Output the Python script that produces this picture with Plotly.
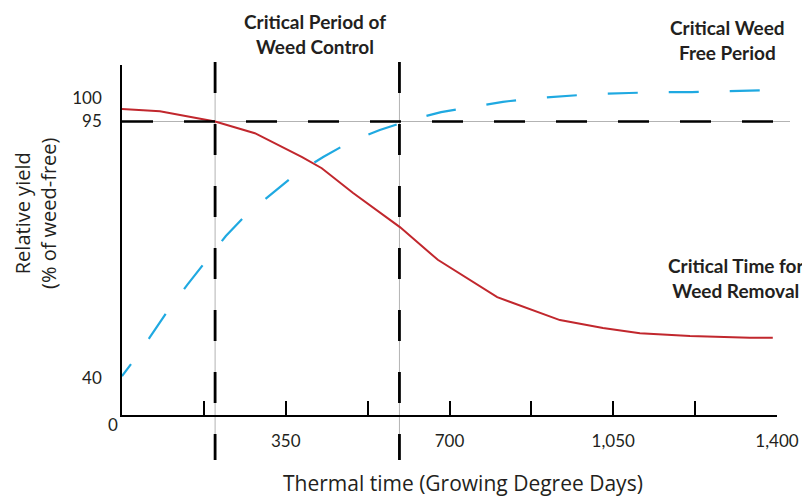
import plotly.graph_objects as go

# ---------------- data ----------------
# Critical time for weed removal (red, solid)
ctwr_time = [0, 81, 199, 284, 385, 427, 494, 594, 675, 802, 936, 1028, 1107, 1214, 1342, 1391]
ctwr_yield = [97.7, 97.2, 95.0, 92.5, 87.4, 85.0, 79.7, 72.4, 65.4, 57.4, 52.5, 50.8, 49.7, 49.1, 48.7, 48.7]

# Critical weed-free period (blue, dashed)
cwfp_time = [0, 21, 60, 96, 139, 180, 222, 267, 321, 372, 430, 487, 551, 594, 616, 682, 748,
             814, 881, 949, 1015, 1084, 1150, 1218, 1285, 1385]
cwfp_yield = [40.5, 43.3, 48.9, 54.2, 60.0, 65.1, 70.5, 75.2, 79.7, 83.8, 87.4, 90.6, 93.2, 94.6,
              95.3, 97.0, 98.1, 99.2, 100.0, 100.5, 100.9, 101.1, 101.3, 101.3, 101.5, 101.7]

threshold_yield = 95
cpwc_bounds = [199, 593]          # start / end of critical period of weed control

x_tickvals = [0, 175, 350, 525, 700, 875, 1050, 1225, 1400]
x_ticktext = ["", "", "350", "", "700", "", "1,050", "", "1,400"]
y_tickvals = [40, 95, 100]
y_ticktext = ["40", "95", "100"]

# ---------------- styling ----------------
FONT = "Lato"
TFONT = "Open Sans"
TXT = "#231F20"
RED = "#C1272D"
BLUE = "#1FA9E1"
OFF = 8                      # page body margin
W, H = 810 - OFF, 499 - OFF
ML, MR, MT, MB = 122 - OFF, 33, 65 - OFF, 84
PW, PH = W - ML - MR, H - MT - MB


def px_x(p):
    return (p - OFF - ML) / PW


def px_y(p):
    return (H - MB - (p - OFF)) / PH


fig = go.Figure()

fig.add_trace(go.Scatter(
    x=ctwr_time, y=ctwr_yield, mode="lines",
    line=dict(color=RED, width=2), hoverinfo="skip", showlegend=False))

blue_dash = "15px,31px" + ",30px,31px" * 30
fig.add_trace(go.Scatter(
    x=cwfp_time, y=cwfp_yield, mode="lines",
    line=dict(color=BLUE, width=2.2, dash=blue_dash), hoverinfo="skip", showlegend=False))

# threshold (95 %) reference line: thin grey + black dashes
fig.add_shape(type="line", xref="paper", yref="y", x0=0, x1=px_x(790),
              y0=threshold_yield, y1=threshold_yield, line=dict(color="#B3B3B3", width=1), layer="below")
fig.add_shape(type="line", xref="x", yref="y", x0=0, x1=1400,
              y0=threshold_yield, y1=threshold_yield, line=dict(color="black", width=2.5, dash="31px,31px"))

for xv in cpwc_bounds:
    fig.add_shape(type="line", xref="x", yref="paper", x0=xv, x1=xv,
                  y0=px_y(62), y1=px_y(460), line=dict(color="#B3B3B3", width=1), layer="below")
    fig.add_shape(type="line", xref="x", yref="paper", x0=xv, x1=xv,
                  y0=px_y(62), y1=px_y(460), line=dict(color="black", width=2.8, dash="31px,31px"))

ann = [
    dict(text="<b>Critical Period of<br>Weed Control</b>", x=px_x(315), y=px_y(34.5)),
    dict(text="<b>Critical Weed<br>Free Period</b>", x=px_x(727), y=px_y(40)),
    dict(text="<b>Critical Time for<br>Weed Removal</b>", x=px_x(736), y=px_y(278)),
]
for a in ann:
    fig.add_annotation(xref="paper", yref="paper", xanchor="center", yanchor="middle",
                       showarrow=False, font=dict(family=FONT, size=19, color=TXT), **a)

fig.add_annotation(text="Thermal time (Growing Degree Days)", xref="paper", yref="paper",
                   x=px_x(463), y=px_y(483), xanchor="center", yanchor="middle", showarrow=False,
                   font=dict(family=TFONT, size=21, color=TXT))
fig.add_annotation(text="Relative yield<br>(% of weed-free)", xref="paper", yref="paper",
                   x=px_x(35), y=px_y(213), xanchor="center", yanchor="middle", showarrow=False,
                   textangle=-90, font=dict(family=TFONT, size=20, color=TXT))
fig.add_annotation(text="0", xref="x", yref="paper", x=0, y=0, xanchor="center", yanchor="middle",
                   xshift=-9, yshift=-9, showarrow=False, font=dict(family=FONT, size=17, color=TXT))

fig.update_layout(
    width=W, height=H,
    margin=dict(l=ML, r=MR, t=MT, b=MB),
    paper_bgcolor="white", plot_bgcolor="white",
    font=dict(family=FONT, size=17, color=TXT),
    xaxis=dict(range=[0, 1400], showgrid=False, zeroline=False, showline=True, linecolor="black",
               linewidth=1.5, ticks="inside", ticklen=14, tickwidth=1.5, tickcolor="black",
               tickvals=x_tickvals, ticktext=x_ticktext, ticklabelstandoff=10),
    yaxis=dict(range=[32.19, 107.09], showgrid=False, zeroline=False, showline=True, linecolor="black",
               linewidth=1.5, ticks="", tickvals=y_tickvals, ticktext=y_ticktext, ticklabelstandoff=15),
)

fig.write_html("out.html")
